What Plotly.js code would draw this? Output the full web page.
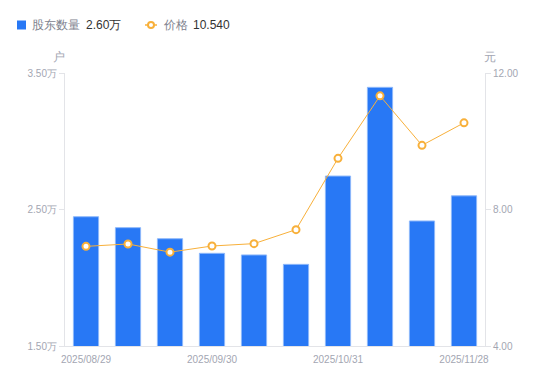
<!DOCTYPE html>
<html><head><meta charset="utf-8">
<script src="https://cdn.plot.ly/plotly-3.0.1.min.js"></script>
<style>html,body{margin:0;padding:0;background:#fff}#c{width:550px;height:381px}</style>
</head><body><div id="c"></div>
<script>
var dates = ['2025/08/29','2025/09/10','2025/09/19','2025/09/30','2025/10/10','2025/10/20','2025/10/31','2025/11/10','2025/11/20','2025/11/28'];
var holders = [2.447, 2.367, 2.286, 2.179, 2.167, 2.098, 2.745, 3.395, 2.416, 2.600]; // 万户
var prices = [6.92, 6.99, 6.75, 6.93, 7.00, 7.41, 9.50, 11.33, 9.88, 10.54];
var xTickDates = ['2025/08/29','2025/09/30','2025/10/31','2025/11/28'];
var leftTicks = [1.5, 2.5, 3.5];
var leftTickText = ['1.50万','2.50万','3.50万'];
var rightTicks = [4, 8, 12];
var rightTickText = ['4.00','8.00','12.00'];

var blue = '#2878F5', orange = '#F8B03A', gray = '#A3A6B2', axis = '#E3E4E8';
var font = 'Liberation Sans, Arial, sans-serif';

var L = 65, R = 485, T = 73, B = 346;
function px(x){return (x - L)/(R - L);}
function py(y){return (B - y)/(B - T);}

var traces = [
  {type:'bar', x:dates, y:holders, width:0.6, marker:{color:blue, line:{color:'#8DB8FA', width:1}}, yaxis:'y', hoverinfo:'none'},
  {type:'scatter', mode:'lines+markers', x:dates, y:prices, yaxis:'y2', line:{color:orange, width:1},
   marker:{symbol:'circle', size:7, color:'#fff', line:{color:orange, width:2}}, hoverinfo:'none'}
];

var layout = {
  width:550, height:381, margin:{l:L, r:550-R, t:T, b:381-B},
  paper_bgcolor:'#fff', plot_bgcolor:'#fff', showlegend:false, bargap:0.4,
  font:{family:font, size:10, color:gray},
  xaxis:{type:'category', range:[-0.5, 9.5], tickmode:'array', tickvals:xTickDates, ticktext:xTickDates,
    showgrid:false, showline:true, linecolor:axis, linewidth:1, ticks:'outside', ticklen:4, tickcolor:'rgba(0,0,0,0)', tickfont:{size:10, color:gray}, zeroline:false, fixedrange:true},
  yaxis:{range:[1.5, 3.5], tickmode:'array', tickvals:leftTicks, ticktext:leftTickText, showgrid:false,
    showline:true, linecolor:axis, linewidth:1, ticks:'outside', ticklen:5, tickcolor:axis, tickfont:{size:10, color:gray}, zeroline:false},
  yaxis2:{overlaying:'y', side:'right', range:[4, 12], tickmode:'array', tickvals:rightTicks, ticktext:rightTickText, showgrid:false,
    showline:true, linecolor:axis, linewidth:1, ticks:'outside', ticklen:5, tickcolor:axis, tickfont:{size:10, color:gray}, zeroline:false},
  shapes:[
    {type:'rect', xref:'paper', yref:'paper', x0:px(17), x1:px(26), y0:py(20.5), y1:py(29.5), fillcolor:blue, line:{width:0}},
    {type:'line', xref:'paper', yref:'paper', x0:px(145), x1:px(157), y0:py(25), y1:py(25), line:{color:orange, width:1.5}},
    {type:'circle', xref:'paper', yref:'paper', x0:px(148), x1:px(154), y0:py(22), y1:py(28), fillcolor:'#fff', line:{color:orange, width:2}}
  ],
  annotations:[
    {xref:'paper', yref:'paper', x:px(30), y:py(25), xanchor:'left', yanchor:'middle', showarrow:false, text:'股东数量', font:{size:12, color:'#7E828E'}},
    {xref:'paper', yref:'paper', x:px(84), y:py(25), xanchor:'left', yanchor:'middle', showarrow:false, text:'2.60万', font:{size:12, color:'#333'}},
    {xref:'paper', yref:'paper', x:px(161), y:py(25), xanchor:'left', yanchor:'middle', showarrow:false, text:'价格', font:{size:12, color:'#7E828E'}},
    {xref:'paper', yref:'paper', x:px(191), y:py(25), xanchor:'left', yanchor:'middle', showarrow:false, text:'10.540', font:{size:12, color:'#333'}},
    {xref:'paper', yref:'paper', x:px(59), y:py(57), xanchor:'center', yanchor:'middle', showarrow:false, text:'户', font:{size:12, color:gray}},
    {xref:'paper', yref:'paper', x:px(490), y:py(57), xanchor:'center', yanchor:'middle', showarrow:false, text:'元', font:{size:12, color:gray}}
  ]
};
Plotly.newPlot('c', traces, layout, {staticPlot:true, displayModeBar:false});
</script></body></html>
